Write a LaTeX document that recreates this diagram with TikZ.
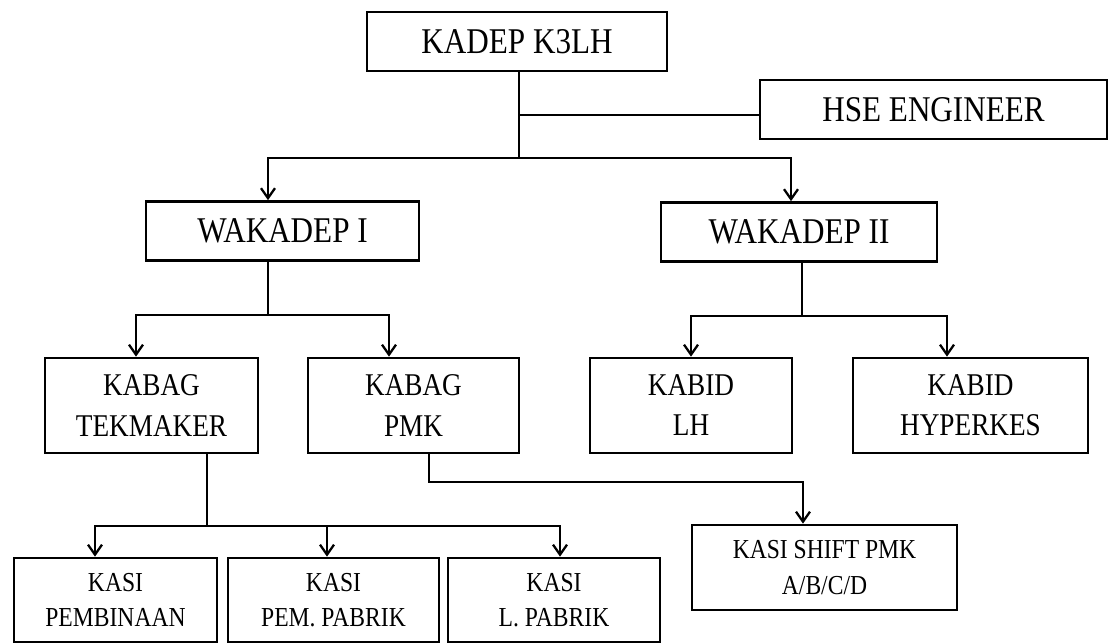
\documentclass[tikz,border=0pt]{standalone}
\usepackage{fontspec}
\setmainfont{Liberation Serif}[FakeStretch=0.86]
\usetikzlibrary{arrows.meta}
\newcommand{\headfont}{\fontsize{10.3}{12}\selectfont}
\newcommand{\kabagfont}{\fontsize{9}{11.4}\selectfont}
\newcommand{\kasifont}{\fontsize{7.8}{10}\selectfont}
\tikzset{
  unit/.style  = {draw, line width=0.75pt, align=center, inner sep=0pt},
  head/.style  = {unit, font=\headfont, minimum height=0.59cm},
  kabag/.style = {unit, font=\kabagfont, minimum height=0.95cm},
  kasi/.style  = {unit, font=\kasifont, minimum height=0.84cm},
  link/.style  = {line width=0.65pt},
  >={Straight Barb[length=1mm,width=1.4mm]}
}

\begin{document}
\begin{tikzpicture}[x=0.01cm, y=-0.01cm]
	\useasboundingbox (0,0) rectangle (1110,643);
	\node[head, minimum width=3.00cm] (kadep) at (517,41.5) {KADEP K3LH};
	\node[head, minimum width=3.47cm] (hse) at (933.5,109.5) {HSE ENGINEER};
	\node[head, minimum width=2.73cm] (wak1) at (282.5,231) {WAKADEP I};
	\node[head, minimum width=2.76cm] (wak2) at (799,232) {WAKADEP II};
	\node[kabag, minimum width=2.13cm] (tek) at (151.5,405.5) {KABAG\\TEKMAKER};
	\node[kabag, minimum width=2.11cm] (pmk) at (413.5,405.5) {KABAG\\PMK};
	\node[kabag, minimum width=2.02cm] (lh) at (691,405.5) {KABID\\LH};
	\node[kabag, minimum width=2.35cm] (hyp) at (970.5,405.5) {KABID\\HYPERKES};
	\node[kasi, minimum width=2.03cm] (pemb) at (115.5,600) {KASI\\PEMBINAAN};
	\node[kasi, minimum width=2.11cm] (pempab) at (333.5,600) {KASI\\PEM. PABRIK};
	\node[kasi, minimum width=2.12cm] (lpab) at (554,600) {KASI\\L. PABRIK};
	\node[kasi, minimum width=2.65cm, minimum height=0.85cm] (shift) at (824.5,567.5) {KASI SHIFT PMK\\A/B/C/D};
	\draw[link] ([xshift=0.2mm]kadep.south) -- ++(0,86) coordinate (kbus);
	\draw[link] ([xshift=0.2mm]kadep.south) ++(0,43) coordinate (hbr) -- (hbr -| hse.west);
	\draw[link,->] (kbus) -| ([xshift=-1.45mm]wak1.north);
	\draw[link,->] (kbus) -| ([xshift=-0.8mm]wak2.north);
	\draw[link] ([xshift=-1.45mm]wak1.south) -- ++(0,53) coordinate (w1bus);
	\draw[link,->] (w1bus) -| ([xshift=-1.55mm]tek.north);
	\draw[link,->] (w1bus) -| ([xshift=-2.45mm]pmk.north);
	\draw[link] ([xshift=0.3mm]wak2.south) -- ++(0,53) coordinate (w2bus);
	\draw[link,->] (w2bus) -| (lh.north);
	\draw[link,->] (w2bus) -| ([xshift=-2.35mm]hyp.north);
	\draw[link] ([xshift=5.55mm]tek.south) -- ++(0,72) coordinate (tbus);
	\draw[link,->] (tbus) -| ([xshift=-2.05mm]pemb.north);
	\draw[link,->] (tbus) -| ([xshift=-0.65mm]pempab.north);
	\draw[link,->] (tbus) -| ([xshift=0.6mm]lpab.north);
	\draw[link,->] ([xshift=1.55mm]pmk.south) -- ++(0,28) -| ([xshift=-2.15mm]shift.north);
\end{tikzpicture}
\end{document}
